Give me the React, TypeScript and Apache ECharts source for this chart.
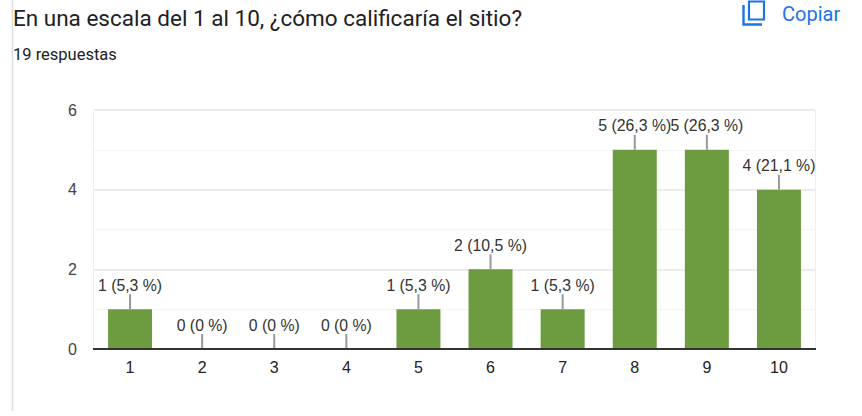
import React, { useEffect, useRef } from "react";
import * as echarts from "echarts";

const categories = ["1", "2", "3", "4", "5", "6", "7", "8", "9", "10"];
const counts = [1, 0, 0, 0, 1, 2, 1, 5, 5, 4];
const percents = ["5,3", "0", "0", "0", "5,3", "10,5", "5,3", "26,3", "26,3", "21,1"];
const yTicks = { min: 0, max: 6, interval: 2 };
const titleText = "En una escala del 1 al 10, ¿cómo calificaría el sitio?";
const subtitleText = "19 respuestas";
const copyText = "Copiar";

export default function App() {
  const ref = useRef<HTMLDivElement>(null);
  useEffect(() => {
    const chart = echarts.init(ref.current!, undefined, { renderer: "svg", width: 862, height: 416 });
    chart.setOption({
      animation: false,
      backgroundColor: "#ffffff",
      textStyle: { fontFamily: "'Liberation Sans', Arial, sans-serif" },
      grid: { left: 94, right: 47, top: 110, bottom: 67 },
      xAxis: {
        type: "category",
        data: categories,
        axisLine: { show: true, lineStyle: { color: "#333333", width: 2 } },
        axisTick: { show: false },
        axisLabel: { color: "#222222", fontSize: 16, margin: 10, fontFamily: "'Liberation Sans', Arial, sans-serif" },
      },
      yAxis: {
        type: "value",
        min: yTicks.min,
        max: yTicks.max,
        interval: yTicks.interval,
        axisLine: { show: false },
        axisTick: { show: false },
        axisLabel: { color: "#444444", fontSize: 16, margin: 17, fontFamily: "'Liberation Sans', Arial, sans-serif" },
        splitLine: { show: true, lineStyle: { color: "#ebebeb", width: 2 } },
        minorTick: { show: false, splitNumber: 2 },
        minorSplitLine: { show: true, lineStyle: { color: "#f5f5f5", width: 1 } },
      },
      series: [
        {
          type: "bar",
          data: counts,
          barWidth: 44,
          itemStyle: { color: "#6d9b40" },
          label: {
            show: true,
            position: "top",
            distance: 16,
            color: "#333333",
            fontSize: 15.8,
            fontFamily: "'Liberation Sans', Arial, sans-serif",
            formatter: (p: any) => `${counts[p.dataIndex]} (${percents[p.dataIndex]} %)`,
          },
          z: 3,
        },
        {
          type: "custom",
          silent: true,
          z: 4,
          data: counts.map((v, i) => [i, v]),
          encode: { x: 0, y: 1 },
          renderItem: (_params: any, api: any) => {
            const pt = api.coord([api.value(0), api.value(1)]);
            return {
              type: "line",
              shape: { x1: pt[0], y1: pt[1], x2: pt[0], y2: pt[1] - 15 },
              style: { stroke: "#999999", lineWidth: 2 },
            };
          },
        },
      ],
      graphic: [
        { type: "line", shape: { x1: 12.5, y1: 0, x2: 12.5, y2: 411 }, style: { stroke: "#dadce0", lineWidth: 1.5 } },
        { type: "line", shape: { x1: 93.5, y1: 110, x2: 93.5, y2: 349 }, style: { stroke: "#eeeeee", lineWidth: 1 } },
        { type: "line", shape: { x1: 815.5, y1: 110, x2: 815.5, y2: 349 }, style: { stroke: "#eeeeee", lineWidth: 1 } },
        { type: "line", z: 5, shape: { x1: 93, y1: 349, x2: 816, y2: 349 }, style: { stroke: "#333333", lineWidth: 2 } },
        { type: "text", x: 13, y: 18, style: { text: titleText, fill: "#202124", font: "400 22.5px Roboto", textVerticalAlign: "middle", textAlign: "left" } },
        { type: "text", x: 13, y: 54, style: { text: subtitleText, fill: "#202124", font: "400 16.5px Roboto", textVerticalAlign: "middle", textAlign: "left" } },
        { type: "text", x: 782, y: 14, style: { text: copyText, fill: "#1a73e8", font: "400 20px Roboto", textVerticalAlign: "middle", textAlign: "left" } },
        { type: "rect", shape: { x: 749, y: 1.5, width: 15, height: 18 }, style: { fill: "none", stroke: "#1a73e8", lineWidth: 2.2 } },
        { type: "polyline", shape: { points: [[743.5, 5], [743.5, 24.5], [762, 24.5]] }, style: { fill: "none", stroke: "#1a73e8", lineWidth: 2.4 } },
      ],
    });
    return () => chart.dispose();
  }, []);
  return <div ref={ref} style={{ position: "fixed", left: 0, top: 0, width: 862, height: 416 }} />;
}
